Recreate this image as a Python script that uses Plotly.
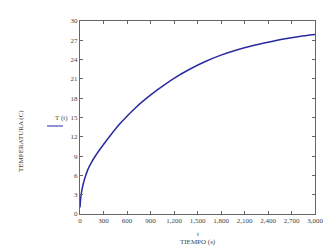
import plotly.graph_objects as go

t_vals = [0, 10, 25, 50, 100, 150, 200, 300, 400, 500, 600, 700, 800, 1000, 1200, 1400,
          1600, 1800, 2000, 2200, 2400, 2600, 2800, 3000]
T_vals = [1.0, 2.6, 3.8, 5.1, 6.9, 8.1, 9.1, 10.8, 12.4, 13.9, 15.2, 16.4, 17.5, 19.4, 21.1, 22.5,
          23.7, 24.7, 25.5, 26.15, 26.7, 27.2, 27.6, 27.9]
x_ticks = list(range(0, 3001, 300))
y_ticks = list(range(0, 31, 3))

font = dict(family="Liberation Serif", size=7, color="#444444")

fig = go.Figure()
fig.add_trace(go.Scatter(x=t_vals, y=T_vals, mode="lines",
                         line=dict(color="#2a2aa0", width=1.5, shape="spline", smoothing=0.8),
                         showlegend=False))

axis_common = dict(showgrid=False, zeroline=False, showline=True, linecolor="#666666",
                   linewidth=1, ticks="inside", ticklen=3, tickcolor="#666666",
                   mirror="ticks", tickfont=font)
fig.update_xaxes(range=[0, 3000], tickvals=x_ticks,
                 ticktext=[f"{v:,}" for v in x_ticks], **axis_common)
fig.update_yaxes(range=[0, 30], tickvals=y_ticks, **axis_common)

fig.add_annotation(x=0.5, y=-0.07, xref="paper", yref="paper", text="t", showarrow=False,
                   font=font, yanchor="top", xanchor="center")
fig.add_annotation(x=0.5, y=-0.115, xref="paper", yref="paper", text="TIEMPO (s)", showarrow=False,
                   font=font, yanchor="top", xanchor="center")
fig.add_annotation(xref="paper", yref="paper", x=-59/235, y=(214-141)/193, text="TEMPERATURA (C)",
                   showarrow=False, font=font, textangle=-90, xanchor="center", yanchor="middle")
fig.add_annotation(xref="paper", yref="paper", x=-27/235, y=(214-118)/193, text="T (t)",
                   showarrow=False, font=font)
fig.add_shape(type="line", xref="paper", yref="paper", x0=-33/235, x1=-17/235,
              y0=(214-126)/193, y1=(214-126)/193, line=dict(color="#7070c0", width=1.5))

fig.update_layout(width=334, height=250, margin=dict(l=80, r=19, t=21, b=36),
                  paper_bgcolor="white", plot_bgcolor="white")
fig.write_html("out.html")
